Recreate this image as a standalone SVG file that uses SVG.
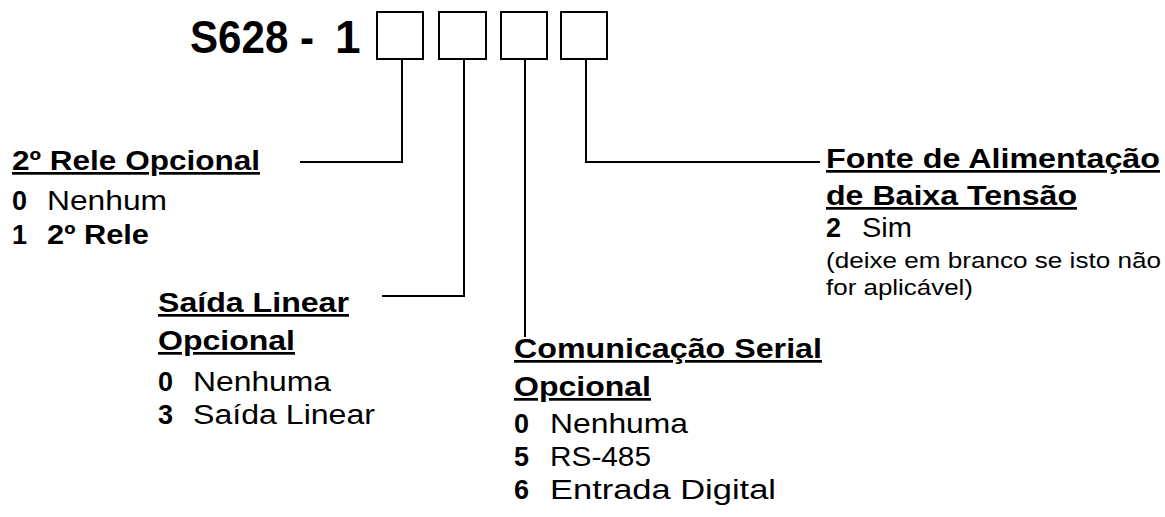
<svg xmlns="http://www.w3.org/2000/svg" width="1165" height="517" viewBox="0 0 1165 517">
<style>
text{font-family:"Liberation Sans",Arial,sans-serif;fill:#000;font-size:27px}
.b{font-weight:bold}
.u{text-decoration:underline}
.t{font-size:46px;font-weight:bold}
.s{font-size:22px}
.box{fill:#fff;stroke:#000;stroke-width:2}
.c{fill:none;stroke:#000;stroke-width:2}
</style>
<rect width="1165" height="517" fill="#fff"/>
<g id="title">
<text class="t" x="190" y="53" textLength="124" lengthAdjust="spacingAndGlyphs">S628 -</text>
<text class="t" x="335" y="53">1</text>
</g>
<g id="boxes">
<rect class="box" x="377" y="12" width="46" height="47"/>
<rect class="box" x="439" y="12" width="47" height="47"/>
<rect class="box" x="501" y="12" width="46" height="47"/>
<rect class="box" x="561" y="12" width="46" height="47"/>
</g>
<g id="connectors">
<path class="c" d="M402 59V162H300"/>
<path class="c" d="M464 59V296H382"/>
<path class="c" d="M525 59V337"/>
<path class="c" d="M586 59V162H820"/>
</g>
<g id="relay">
<text class="b u" x="12" y="170" textLength="248" lengthAdjust="spacingAndGlyphs">2º Rele Opcional</text>
<text x="12" y="210"><tspan class="b">0</tspan><tspan x="47" textLength="120" lengthAdjust="spacingAndGlyphs">Nenhum</tspan></text>
<text class="b" x="12" y="244">1<tspan x="47" textLength="102" lengthAdjust="spacingAndGlyphs">2º Rele</tspan></text>
</g>
<g id="linear">
<text class="b u" x="158" y="312" textLength="191" lengthAdjust="spacingAndGlyphs">Saída Linear</text>
<text class="b u" x="158" y="350" textLength="137" lengthAdjust="spacingAndGlyphs">Opcional</text>
<text x="158" y="391"><tspan class="b">0</tspan><tspan x="193" textLength="138" lengthAdjust="spacingAndGlyphs">Nenhuma</tspan></text>
<text x="158" y="424"><tspan class="b">3</tspan><tspan x="193" textLength="182" lengthAdjust="spacingAndGlyphs">Saída Linear</tspan></text>
</g>
<g id="serial">
<text class="b u" x="514" y="358" textLength="308" lengthAdjust="spacingAndGlyphs">Comunicação Serial</text>
<text class="b u" x="514" y="396" textLength="137" lengthAdjust="spacingAndGlyphs">Opcional</text>
<text x="514" y="433"><tspan class="b">0</tspan><tspan x="550" textLength="138" lengthAdjust="spacingAndGlyphs">Nenhuma</tspan></text>
<text x="514" y="466"><tspan class="b">5</tspan><tspan x="550" textLength="101" lengthAdjust="spacingAndGlyphs">RS-485</tspan></text>
<text x="514" y="499"><tspan class="b">6</tspan><tspan x="550" textLength="226" lengthAdjust="spacingAndGlyphs">Entrada Digital</tspan></text>
</g>
<g id="power">
<text class="b u" x="826" y="168" textLength="334" lengthAdjust="spacingAndGlyphs">Fonte de Alimentação</text>
<text class="b u" x="826" y="205" textLength="251" lengthAdjust="spacingAndGlyphs">de Baixa Tensão</text>
<text x="826" y="237"><tspan class="b">2</tspan><tspan x="862" textLength="50" lengthAdjust="spacingAndGlyphs">Sim</tspan></text>
<text class="s" x="826" y="268" textLength="335" lengthAdjust="spacingAndGlyphs">(deixe em branco se isto não</text>
<text class="s" x="826" y="295" textLength="147" lengthAdjust="spacingAndGlyphs">for aplicável)</text>
</g>
</svg>
